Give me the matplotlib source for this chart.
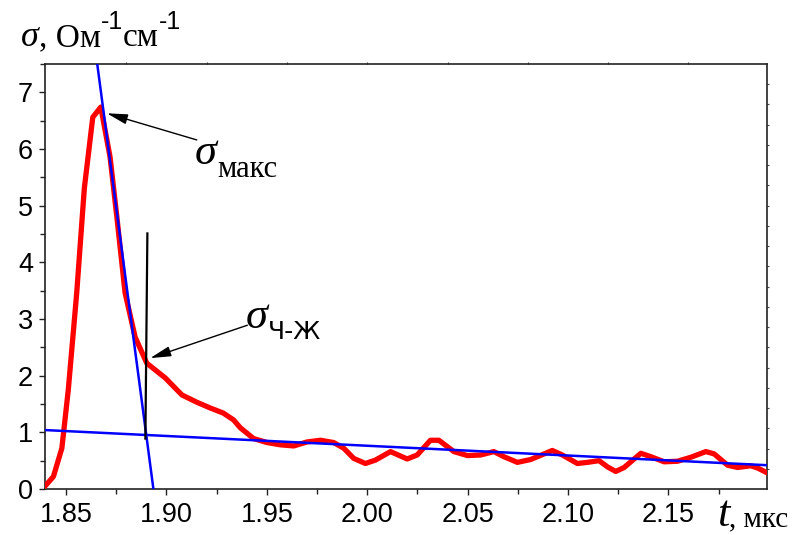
import numpy as np
import matplotlib
matplotlib.use("Agg")
import matplotlib.pyplot as plt
from matplotlib.transforms import IdentityTransform
from matplotlib.ticker import MultipleLocator, FixedLocator, NullFormatter

# ---- data ----
t_us = [1.8395, 1.8437, 1.8479, 1.8511, 1.8553, 1.8591, 1.8633, 1.8673, 1.8719, 1.8753,
        1.8794, 1.8844, 1.8902, 1.8994, 1.9077, 1.9152, 1.9218, 1.9283, 1.9334, 1.9368,
        1.9434, 1.9501, 1.9567, 1.9634, 1.9700, 1.9767, 1.9833, 1.9883, 1.9933, 1.9991,
        2.0041, 2.0116, 2.0199, 2.0249, 2.0315, 2.0357, 2.0432, 2.0499, 2.0565, 2.0631,
        2.0681, 2.0748, 2.0814, 2.0922, 2.0972, 2.1047, 2.1097, 2.1155, 2.1197, 2.1238,
        2.1280, 2.1363, 2.1413, 2.1479, 2.1546, 2.1612, 2.1687, 2.1728, 2.1795, 2.1845,
        2.1911, 2.1945, 2.1995]
sigma = [0.05, 0.22, 0.72, 1.75, 3.46, 5.31, 6.56, 6.74, 5.86, 4.80,
         3.46, 2.68, 2.22, 1.96, 1.66, 1.53, 1.43, 1.34, 1.22, 1.08,
         0.89, 0.82, 0.78, 0.76, 0.83, 0.86, 0.82, 0.72, 0.54, 0.45,
         0.51, 0.66, 0.53, 0.60, 0.86, 0.86, 0.66, 0.59, 0.60, 0.66,
         0.57, 0.47, 0.52, 0.68, 0.60, 0.45, 0.47, 0.50, 0.39, 0.31,
         0.38, 0.63, 0.57, 0.48, 0.49, 0.56, 0.66, 0.62, 0.42, 0.38,
         0.41, 0.37, 0.28]

steep_t = [1.8656, 1.8935]
steep_s = [7.48, 0.0]
flat_t = [1.8395, 2.1991]
flat_s = [1.04, 0.42]
vert_t = [1.8905, 1.8895]
vert_s = [4.51, 0.89]

arrow_max_tail = (1.9151, 6.16)
arrow_max_head = (1.8703, 6.63)
arrow_cj_tail = (1.9403, 2.89)
arrow_cj_head = (1.8919, 2.31)

x_ticks = [1.85, 1.90, 1.95, 2.00, 2.05, 2.10, 2.15]
x_ticklabels = ["1.85", "1.90", "1.95", "2.00", "2.05", "2.10", "2.15"]
y_ticks = [0, 1, 2, 3, 4, 5, 6, 7]

SERIF = "Liberation Serif"
SANS = "Liberation Sans"

W, H = 807, 535
fig = plt.figure(figsize=(W / 100, H / 100), dpi=100)
ax = fig.add_axes([45 / W, 1 - 489 / H, (766.7 - 45) / W, (489 - 64) / H])

ax.plot(t_us, sigma, color="#ff0000", lw=3.8, solid_joinstyle="round", zorder=3)
ax.plot(steep_t, steep_s, color="#0000ff", lw=1.8, zorder=4)
ax.plot(flat_t, flat_s, color="#0000ff", lw=1.8, zorder=4)
ax.plot(vert_t, vert_s, color="black", lw=1.6, zorder=5)

arrowprops = dict(arrowstyle="-|>,head_length=0.9,head_width=0.22", color="black",
                  lw=1.0, shrinkA=0, shrinkB=0, mutation_scale=14)
ax.annotate("", xy=arrow_max_head, xytext=arrow_max_tail, arrowprops=arrowprops, zorder=6)
ax.annotate("", xy=arrow_cj_head, xytext=arrow_cj_tail, arrowprops=arrowprops, zorder=6)

ax.set_xlim(1.8395, 2.199)
ax.set_ylim(0, 7.5)

ax.xaxis.set_major_locator(FixedLocator(x_ticks))
ax.set_xticklabels(x_ticklabels)
ax.xaxis.set_minor_locator(MultipleLocator(0.025))
ax.yaxis.set_major_locator(FixedLocator(y_ticks))
ax.yaxis.set_minor_locator(MultipleLocator(0.5))

for lab in ax.get_xticklabels() + ax.get_yticklabels():
    lab.set_fontfamily(SANS)
    lab.set_fontsize(19.5)

ax.tick_params(axis="both", which="major", direction="out", length=4.5, width=1.0, color="#222222")
ax.tick_params(axis="both", which="minor", direction="out", length=3.5, width=1.0, color="#222222")
ax.tick_params(axis="x", which="major", pad=5)
ax.tick_params(axis="y", which="major", pad=4)

for sp in ax.spines.values():
    sp.set_linewidth(1.2)
    sp.set_color("#222222")

# tiny ticks on top and right
top = ax.secondary_xaxis("top")
top.set_xticks(list(np.arange(1.88, 2.17, 0.04)))
top.xaxis.set_major_formatter(NullFormatter())
top.tick_params(direction="out", length=1.3, width=0.8, color="#444444")
top.spines["top"].set_visible(False)
right = ax.secondary_yaxis("right")
right.set_yticks(list(np.arange(1, 21) * 7.5 / 21))
right.yaxis.set_major_formatter(NullFormatter())
right.tick_params(direction="out", length=1.3, width=0.8, color="#444444")
right.spines["right"].set_visible(False)


def chain(x, y_img, pieces):
    r = fig.canvas.get_renderer()
    y = H - y_img
    for s, kw, dy in pieces:
        t = fig.text(x, y + dy, s, transform=IdentityTransform(), ha="left",
                     va="baseline", **kw)
        bb = t.get_window_extent(r)
        x = bb.x1


big_it = dict(family=SERIF, style="italic", fontsize=32)
lab_it = dict(family=SERIF, style="italic", fontsize=26)
lab_rm = dict(family=SERIF, fontsize=24)
xl_rm = dict(family=SERIF, fontsize=21)
sup = dict(family=SANS, fontsize=18)
sub_rm = dict(family=SERIF, fontsize=22)
sub_sf = dict(family="DejaVu Sans", fontsize=18)

chain(21, 46, [("σ", lab_it, 0), (", Ом", lab_rm, 0), ("-1", sup, 17),
               ("см", lab_rm, 0), ("-1", sup, 17)])
chain(717, 526, [("t", big_it, 0), (", мкс", xl_rm, 0)])
chain(195, 164, [("σ", big_it, 0), ("макс", sub_rm, -13)])
chain(246, 328, [("σ", big_it, 0), ("Ч-Ж", sub_sf, -11)])

fig.savefig("out.png", dpi=100)
